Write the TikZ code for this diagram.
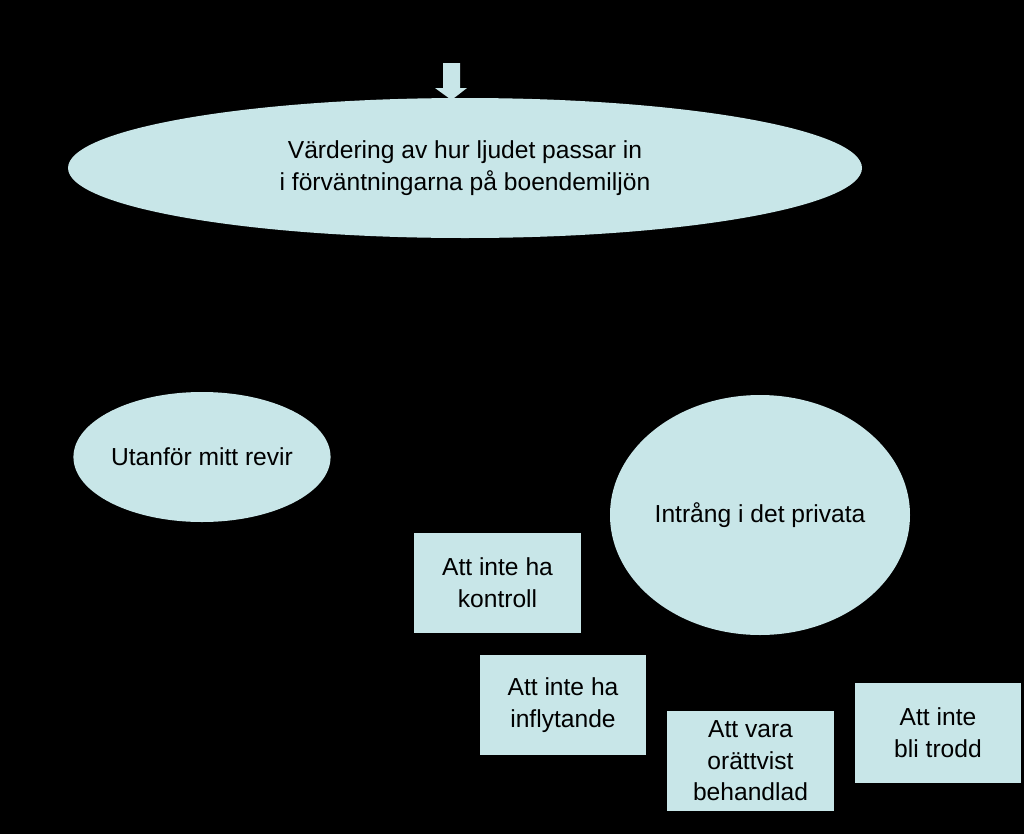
\documentclass[tikz,border=0pt]{standalone}
\usepackage{fontspec}
\setmainfont{Liberation Sans}
\usetikzlibrary{shapes.geometric}
\definecolor{fillc}{HTML}{C8E6E8}
\begin{document}
\begin{tikzpicture}[x=0.03cm,y=-0.03cm,
  txt/.style={font=\fontsize{21}{27}\selectfont,align=center,text=black},
  ell/.style={ellipse,fill=fillc,inner sep=0pt,txt},
  bx/.style={fill=fillc,inner sep=0pt,txt}]
\fill[black] (0,0) rectangle (1024,834);
\useasboundingbox (0,0) rectangle (1024,834);
\node[ell,minimum width=794*0.03cm,minimum height=140*0.03cm] (top) at (465,168) {Värdering av hur ljudet passar in\\i förväntningarna på boendemiljön};
\node[ell,minimum width=234*0.03cm,minimum height=130*0.03cm] (ut) at (202,457) {Utanför mitt revir};
\node[ell,minimum width=300*0.03cm,minimum height=240*0.03cm] (in) at (760,515) {Intrång i det privata};
\node[bx,minimum width=167*0.03cm,minimum height=100*0.03cm] (k) at (497.5,583) {Att inte ha\\kontroll};
\node[bx,minimum width=166*0.03cm,minimum height=100*0.03cm] (f) at (563,705) {Att inte ha\\inflytande};
\node[bx,minimum width=167*0.03cm,minimum height=100*0.03cm] (o) at (750.5,761) {Att vara\\orättvist\\behandlad};
\node[bx,minimum width=166*0.03cm,minimum height=100*0.03cm] (t) at (938,733) {Att inte\\bli trodd};
\coordinate (a1) at (451.5,63);
\fill[fillc] (443,63) -- (460,63) -- (460,88) -- (467,88) -- (451.5,100) -- (435,88) -- (443,88) -- cycle;
\end{tikzpicture}
\end{document}
